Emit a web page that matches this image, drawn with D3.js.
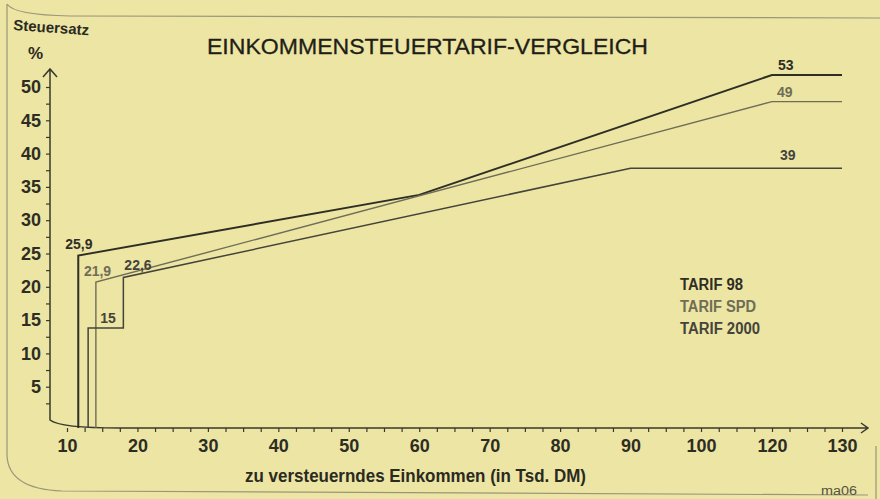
<!DOCTYPE html>
<html lang="de">
<head>
<meta charset="utf-8">
<title>Einkommensteuertarif-Vergleich</title>
<script src="https://d3js.org/d3.v7.min.js"></script>
<style>
  body { margin: 0; background: #ece5a4; }
  svg { display: block; }
  .sans { font-family: "Liberation Sans", Arial, sans-serif; }
</style>
</head>
<body>
<script>
// Daten (Einkommen in Tsd. DM, Steuersatz in %)
var series = ["TARIF 98", "TARIF SPD", "TARIF 2000"];
var income98 = [11.6, 11.6, 60, 120, 130];
var rate98 = [0, 25.9, 35.0, 53, 53];
var incomeSPD = [14.1, 14.1, 120, 130];
var rateSPD = [0, 21.9, 49, 49];
var income2000 = [13.0, 13.0, 18.0, 18.0, 90, 130];
var rate2000 = [0, 15, 15, 22.6, 39, 39];

var xTickLabels = [10, 20, 30, 40, 50, 60, 70, 80, 90, 100, 120, 130];
var yTickLabels = [5, 10, 15, 20, 25, 30, 35, 40, 45, 50];

// Beschriftungen an den Linien
var noteIncome = [11.6, 14.1, 18.0, 13.0, 120, 120, 120];
var noteRate = [25.9, 21.9, 22.6, 15, 53, 49, 39];
var noteText = ["25,9", "21,9", "22,6", "15", "53", "49", "39"];
var noteSeries = [0, 1, 2, 2, 0, 1, 2];

var w = 880, h = 499;
var colors = ["#2f2e25", "#6f6d55", "#45443a"];
var widths = [2, 1.4, 1.5];

var svg = d3.select("body").append("svg")
  .attr("width", w)
  .attr("height", h);

svg.append("rect").attr("width", w).attr("height", h).attr("fill", "#ece5a4");

// Rahmen des Scans
svg.append("path")
  .attr("d", "M7,4 Q14,15 70,16 L880,18 M7,4 L7,455 Q8,489 62,491 L868,495 M876,446 L876,499")
  .attr("fill", "none")
  .attr("stroke", "#9b967a")
  .attr("stroke-width", 1.2);

// Skalen: Achse springt von 100 direkt auf 120
var x = d3.scaleLinear()
  .domain([10, 100, 120, 130])
  .range([67, 701, 772, 842]);
var y = d3.scaleLinear()
  .domain([0, 53])
  .range([428, 75]);
// Die Skalenbeschriftung sitzt im Original etwas hoeher als die Linien
var yAxisScale = d3.scaleLinear()
  .domain([0, 50])
  .range([420, 87]);

// Y-Achse
var yTicks = d3.range(2.5, 50.1, 2.5);
var yAxis = d3.axisLeft(yAxisScale)
  .tickValues(yTicks)
  .tickSize(4)
  .tickPadding(5)
  .tickFormat(function (d) { return yTickLabels.indexOf(d) >= 0 ? d : ""; });
var gy = svg.append("g")
  .attr("transform", "translate(50,0)")
  .call(yAxis);
gy.select(".domain").remove();
gy.selectAll("line").attr("stroke", "#3a392e").attr("stroke-width", 1.2);
gy.selectAll("text")
  .attr("class", "sans")
  .style("font-size", "18px")
  .style("font-weight", "bold")
  .attr("fill", "#2e2d24");

// X-Achse
var xTicks = d3.range(10, 100.1, 2.5).concat([105, 110, 115, 120, 122.5, 125, 127.5, 130]);
var xAxis = d3.axisBottom(x)
  .tickValues(xTicks)
  .tickSize(4)
  .tickPadding(7)
  .tickFormat(function (d) { return xTickLabels.indexOf(d) >= 0 ? d : ""; });
var gx = svg.append("g")
  .attr("transform", "translate(0,428)")
  .call(xAxis);
gx.select(".domain").remove();
gx.selectAll("line").attr("stroke", "#3a392e").attr("stroke-width", 1.2);
gx.selectAll("text")
  .attr("class", "sans")
  .style("font-size", "18px")
  .style("font-weight", "bold")
  .attr("fill", "#2e2d24");

// Achsenlinien mit Pfeilen
svg.append("path")
  .attr("d", "M50,69 L50,420 Q60,428 120,428 L868,428 M43,77 L50,69 L57,77 M861,423 L868,428 L861,433")
  .attr("fill", "none")
  .attr("stroke", "#3a392e")
  .attr("stroke-width", 1.5);

// Linien
var line = d3.line()
  .x(function (d) { return x(d[0]); })
  .y(function (d) { return y(d[1]); });

var lineData = [
  d3.zip(income98, rate98),
  d3.zip(incomeSPD, rateSPD),
  d3.zip(income2000, rate2000)
];

svg.selectAll("path.tarif")
  .data(lineData)
  .enter()
  .append("path")
  .attr("class", "tarif")
  .attr("d", line)
  .attr("fill", "none")
  .attr("stroke", function (d, i) { return colors[i]; })
  .attr("stroke-width", function (d, i) { return widths[i]; });

// Werte an den Linien
var noteDx = [-13, -12, 1, 12, 6, 5, 8];
var noteDy = [-6, -6, -7, -5, -5, -5, -8];
svg.selectAll("text.note")
  .data(noteText)
  .enter()
  .append("text")
  .attr("class", "note sans")
  .attr("x", function (d, i) { return x(noteIncome[i]) + noteDx[i]; })
  .attr("y", function (d, i) { return y(noteRate[i]) + noteDy[i]; })
  .style("font-size", "14px")
  .style("font-weight", "bold")
  .attr("fill", function (d, i) { return colors[noteSeries[i]]; })
  .text(function (d) { return d; });

// Legende (schmale Schrift nachgebildet)
var legendLen = [63, 76, 80];
svg.selectAll("text.legend")
  .data(series)
  .enter()
  .append("text")
  .attr("class", "legend sans")
  .attr("x", 680)
  .attr("y", function (d, i) { return 290 + i * 22; })
  .attr("textLength", function (d, i) { return legendLen[i]; })
  .attr("lengthAdjust", "spacingAndGlyphs")
  .style("font-size", "16px")
  .style("font-weight", "bold")
  .attr("fill", function (d, i) { return colors[i]; })
  .text(function (d) { return d; });

// Titel und Achsentitel
svg.append("text")
  .attr("class", "sans")
  .attr("x", 207)
  .attr("y", 54)
  .style("font-size", "22px")
  .attr("textLength", 441)
  .attr("lengthAdjust", "spacingAndGlyphs")
  .attr("fill", "#1f1e17")
  .attr("stroke", "#1f1e17")
  .attr("stroke-width", 0.3)
  .text("EINKOMMENSTEUERTARIF-VERGLEICH");

svg.append("text")
  .attr("class", "sans")
  .attr("transform", "translate(13,30) rotate(4)")
  .style("font-size", "15px")
  .style("font-weight", "bold")
  .attr("fill", "#2b2a21")
  .text("Steuersatz");

svg.append("text")
  .attr("class", "sans")
  .attr("x", 28)
  .attr("y", 59)
  .style("font-size", "17px")
  .style("font-weight", "bold")
  .attr("fill", "#2b2a21")
  .text("%");

svg.append("text")
  .attr("class", "sans")
  .attr("x", 245)
  .attr("y", 482)
  .style("font-size", "18px")
  .style("font-weight", "bold")
  .attr("textLength", 341)
  .attr("lengthAdjust", "spacingAndGlyphs")
  .attr("fill", "#2b2a21")
  .text("zu versteuerndes Einkommen (in Tsd. DM)");

svg.append("text")
  .attr("class", "sans")
  .attr("x", 821)
  .attr("y", 495)
  .style("font-size", "12px")
  .attr("textLength", 36)
  .attr("lengthAdjust", "spacingAndGlyphs")
  .attr("fill", "#55533f")
  .text("ma06");
</script>
</body>
</html>
